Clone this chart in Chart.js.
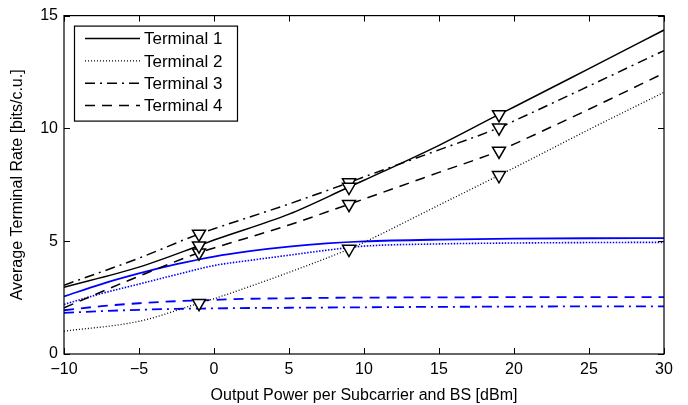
<!DOCTYPE html>
<html>
<head>
<meta charset="utf-8">
<title>Average Terminal Rate</title>
<script src="https://cdn.jsdelivr.net/npm/chart.js@4.4.0/dist/chart.umd.min.js"></script>
<style>
  html, body { margin: 0; padding: 0; background: #fff; }
  canvas { display: block; }
</style>
</head>
<body>
<canvas id="graficoTaxa" width="688" height="405"></canvas>
<script>
// Potencia de saida (dBm) e taxas medias por terminal
const powerDbm = [-10, -5, -1, 0, 5, 9, 10, 15, 19, 20, 25, 30];
const terminal1 = [2.96, 3.85, 4.80, 5.05, 6.20, 7.40, 7.70, 9.25, 10.62, 10.95, 12.65, 14.36];
const terminal2 = [1.01, 1.45, 2.25, 2.45, 3.62, 4.65, 4.95, 6.60, 7.92, 8.25, 9.95, 11.60];
const terminal3 = [3.05, 4.25, 5.32, 5.55, 6.65, 7.60, 7.85, 9.05, 10.03, 10.33, 11.88, 13.45];
const terminal4 = [2.05, 3.45, 4.49, 4.70, 5.72, 6.64, 6.87, 8.05, 9.00, 9.30, 10.85, 12.45];
const markerPower = [-1, 9, 19];

// Curvas azuis (sem legenda)
const powerBlue = [-10, -7.5, -5, -2.5, 0, 2.5, 5, 7.5, 10, 15, 20, 25, 30];
const blue1 = [2.55, 3.10, 3.57, 3.98, 4.32, 4.57, 4.76, 4.90, 4.99, 5.07, 5.11, 5.13, 5.14];
const blue2 = [2.20, 2.68, 3.10, 3.52, 3.92, 4.16, 4.38, 4.60, 4.78, 4.88, 4.92, 4.94, 4.95];
const blue3 = [1.82, 1.90, 1.96, 2.00, 2.02, 2.04, 2.05, 2.06, 2.07, 2.09, 2.10, 2.11, 2.11];
const blue4 = [1.94, 2.12, 2.25, 2.34, 2.40, 2.45, 2.47, 2.49, 2.50, 2.51, 2.52, 2.52, 2.52];

const legendLabels = ['Terminal 1', 'Terminal 2', 'Terminal 3', 'Terminal 4'];
const xTicks = [-10, -5, 0, 5, 10, 15, 20, 25, 30];
const yTicks = [0, 5, 10, 15];

const FONT = '"Liberation Sans", Arial, Helvetica, sans-serif';

// estilos: solido, pontilhado, traco-ponto, tracejado
const dashes = [[], [1, 2], [10, 5, 2, 5], [10, 7]];

function pontos(xs, ys) {
    return xs.map((x, i) => ({ x: x, y: ys[i] }));
}

const blackSets = [terminal1, terminal2, terminal3, terminal4].map((serie, i) => ({
    label: legendLabels[i],
    data: pontos(powerDbm, serie),
    borderColor: '#000',
    borderWidth: i === 1 ? 1.3 : 1.5,
    borderDash: dashes[i],
    cubicInterpolationMode: 'monotone',
    pointStyle: 'triangle',
    rotation: 180,
    pointRadius: ctx => markerPower.includes(ctx.raw.x) ? 7.5 : 0,
    pointHoverRadius: 0,
    pointBackgroundColor: '#fff',
    pointBorderColor: '#000',
    pointBorderWidth: 1.5,
    fill: false
}));

const blueSets = [blue1, blue2, blue3, blue4].map((serie, i) => ({
    label: 'blue' + (i + 1),
    data: pontos(powerBlue, serie),
    borderColor: '#0000ff',
    borderWidth: i === 1 ? 1.6 : 1.8,
    borderDash: [[], [1.5, 1.5], [10, 5, 2, 5], [10, 7]][i],
    cubicInterpolationMode: 'monotone',
    pointRadius: 0,
    pointHoverRadius: 0,
    fill: false
}));

// Moldura com marcas internas e legenda dentro da area do grafico
const molduraPlugin = {
    id: 'moldura',
    afterDatasetsDraw(chart) {
        const { ctx, chartArea: a, scales } = chart;
        ctx.save();
        ctx.strokeStyle = '#000';
        ctx.lineWidth = 1.2;
        ctx.setLineDash([]);
        ctx.strokeRect(a.left, a.top, a.right - a.left, a.bottom - a.top);
        const tl = 6;
        ctx.beginPath();
        xTicks.forEach(v => {
            const px = Math.round(scales.x.getPixelForValue(v)) + 0.5;
            ctx.moveTo(px, a.bottom); ctx.lineTo(px, a.bottom - tl);
            ctx.moveTo(px, a.top); ctx.lineTo(px, a.top + tl);
        });
        yTicks.forEach(v => {
            const py = Math.round(scales.y.getPixelForValue(v)) + 0.5;
            ctx.moveTo(a.left, py); ctx.lineTo(a.left + tl, py);
            ctx.moveTo(a.right, py); ctx.lineTo(a.right - tl, py);
        });
        ctx.lineWidth = 1;
        ctx.stroke();

        // legenda
        const lx = a.left + 10, ly = a.top + 10, lw = 163, lh = 95;
        ctx.fillStyle = '#fff';
        ctx.fillRect(lx, ly, lw, lh);
        ctx.lineWidth = 1.2;
        ctx.strokeRect(lx + 0.5, ly + 0.5, lw, lh);
        ctx.font = '17px ' + FONT;
        ctx.textBaseline = 'middle';
        ctx.fillStyle = '#000';
        legendLabels.forEach((txt, i) => {
            const ry = ly + 13 + i * 22.3;
            const ds = chart.data.datasets[i];
            ctx.beginPath();
            ctx.setLineDash(ds.borderDash);
            ctx.lineWidth = ds.borderWidth;
            ctx.moveTo(lx + 11, ry);
            ctx.lineTo(lx + 66, ry);
            ctx.stroke();
            ctx.setLineDash([]);
            ctx.fillText(txt, lx + 70, ry + 1);
        });
        ctx.restore();
    }
};

const ctx = document.getElementById('graficoTaxa').getContext('2d');

const graficoTaxa = new Chart(ctx, {
    type: 'line',
    data: { datasets: blackSets.concat(blueSets) },
    options: {
        responsive: false,
        animation: false,
        layout: { padding: { top: 13, right: 24, left: 0, bottom: 0 } },
        plugins: {
            legend: { display: false },
            tooltip: { enabled: false }
        },
        scales: {
            x: {
                type: 'linear',
                min: -10,
                max: 30,
                afterFit: s => { s.height = 51; },
                afterBuildTicks: s => { s.ticks = xTicks.map(v => ({ value: v })); },
                grid: { display: false, drawTicks: false },
                border: { display: false },
                ticks: {
                    padding: 6,
                    color: '#000',
                    font: { family: FONT, size: 16 },
                    callback: v => String(v).replace('-', '\u2212')
                },
                title: {
                    display: true,
                    text: 'Output Power per Subcarrier and BS [dBm]',
                    color: '#000',
                    font: { family: FONT, size: 16 },
                    padding: { top: 3, bottom: 0 }
                }
            },
            y: {
                type: 'linear',
                min: 0,
                max: 15,
                afterFit: s => { s.width = 64; },
                afterBuildTicks: s => { s.ticks = yTicks.map(v => ({ value: v })); },
                grid: { display: false, drawTicks: false },
                border: { display: false },
                ticks: {
                    padding: 6,
                    color: '#000',
                    font: { family: FONT, size: 16 }
                },
                title: {
                    display: true,
                    text: 'Average Terminal Rate [bits/c.u.]',
                    color: '#000',
                    font: { family: FONT, size: 16 },
                    padding: { top: 8, bottom: 0 }
                }
            }
        }
    },
    plugins: [molduraPlugin]
});
</script>
</body>
</html>
